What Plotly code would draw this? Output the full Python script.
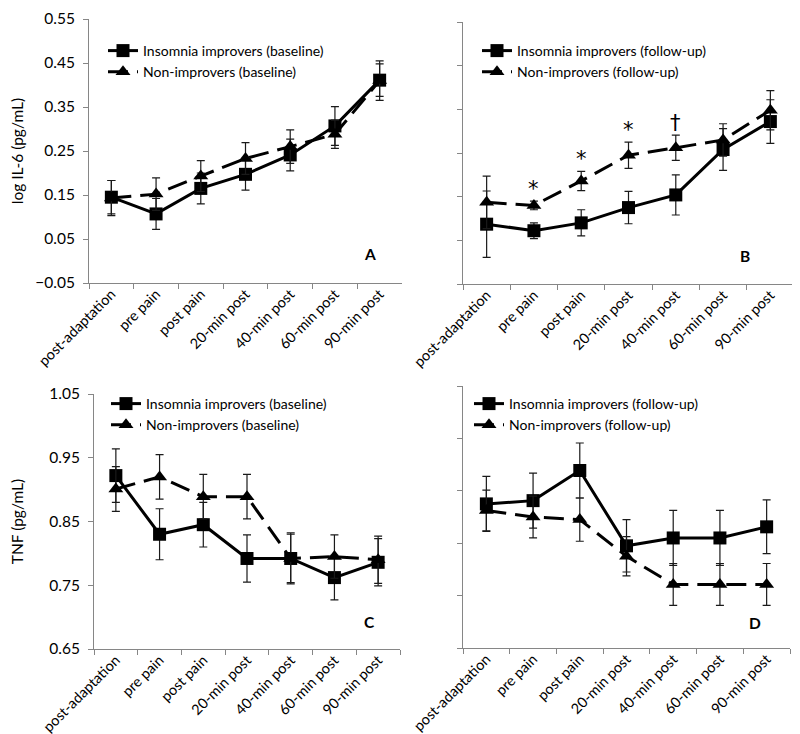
import plotly.graph_objects as go

categories = ["post-adaptation", "pre pain", "post pain", "20-min post",
              "40-min post", "60-min post", "90-min post"]

# Panel A: log IL-6, baseline
il6_impr_base = [0.145, 0.107, 0.165, 0.197, 0.241, 0.307, 0.411]
il6_impr_base_se = [0.038, 0.035, 0.035, 0.036, 0.036, 0.044, 0.037]
il6_non_base = [0.143, 0.152, 0.193, 0.233, 0.260, 0.288, 0.410]
il6_non_base_se = [0.040, 0.037, 0.035, 0.036, 0.038, 0.032, 0.045]

# Panel B: log IL-6, follow-up
il6_impr_fu = [0.087, 0.072, 0.090, 0.125, 0.154, 0.258, 0.322]
il6_impr_fu_se = [0.076, 0.018, 0.030, 0.037, 0.046, 0.048, 0.050]
il6_non_fu = [0.137, 0.130, 0.186, 0.245, 0.262, 0.280, 0.348]
il6_non_fu_se = [0.060, 0.010, 0.022, 0.030, 0.029, 0.037, 0.045]
sig_labels_b = ["", "*", "*", "*", "†", "", ""]

# Panel C: TNF, baseline
tnf_impr_base = [0.922, 0.830, 0.845, 0.792, 0.792, 0.762, 0.786]
tnf_impr_base_se = [0.042, 0.040, 0.035, 0.037, 0.038, 0.035, 0.037]
tnf_non_base = [0.901, 0.920, 0.889, 0.889, 0.792, 0.795, 0.790]
tnf_non_base_se = [0.035, 0.035, 0.035, 0.035, 0.040, 0.034, 0.037]

# Panel D: TNF, follow-up
tnf_impr_fu = [0.870, 0.875, 0.921, 0.806, 0.818, 0.818, 0.835]
tnf_impr_fu_se = [0.042, 0.042, 0.042, 0.040, 0.042, 0.042, 0.041]
tnf_non_fu = [0.860, 0.850, 0.846, 0.790, 0.747, 0.747, 0.747]
tnf_non_fu_se = [0.031, 0.032, 0.033, 0.030, 0.032, 0.032, 0.032]

panel_letters = ["A", "B", "C", "D"]

# the page body adds an 8px margin, so the figure is sized to fit the window
OFF = 8
W, H = 800 - OFF, 734 - OFF
FONT = "Lato"
AXIS_GRAY = "#868686"


def px_x(a, b):
    return [(a - OFF) / W, (b - OFF) / W]


def px_y(top, bottom):
    return [1 - (bottom - OFF) / H, 1 - (top - OFF) / H]


panels = [
    dict(xd=px_x(89, 402), yd=px_y(19, 283), yr=[-0.05, 0.55], dt=0.1, lab=True,
         impr=il6_impr_base, impr_se=il6_impr_base_se, non=il6_non_base, non_se=il6_non_base_se,
         names=("Insomnia improvers (baseline)", "Non-improvers (baseline)"),
         leg=(103, 35), letter=(0.923, 0.068), title="log IL-6 (pg/mL)", so=16),
    dict(xd=px_x(463, 794), yd=px_y(22, 284), yr=[-0.05, 0.55], dt=0.1, lab=False,
         impr=il6_impr_fu, impr_se=il6_impr_fu_se, non=il6_non_fu, non_se=il6_non_fu_se,
         names=("Insomnia improvers (follow-up)", "Non-improvers (follow-up)"),
         leg=(477, 35), letter=(0.873, 0.065), title=None, so=0),
    dict(xd=px_x(94, 400), yd=px_y(394, 649), yr=[0.65, 1.05], dt=0.1, lab=True,
         impr=tnf_impr_base, impr_se=tnf_impr_base_se, non=tnf_non_base, non_se=tnf_non_base_se,
         names=("Insomnia improvers (baseline)", "Non-improvers (baseline)"),
         leg=(106, 388), letter=(0.925, 0.063), title="TNF (pg/mL)", so=26),
    dict(xd=px_x(463, 790), yd=px_y(386, 648), yr=[0.65, 1.05], dt=0.08, lab=False,
         impr=tnf_impr_fu, impr_se=tnf_impr_fu_se, non=tnf_non_fu, non_se=tnf_non_fu_se,
         names=("Insomnia improvers (follow-up)", "Non-improvers (follow-up)"),
         leg=(469, 388), letter=(0.917, 0.053), title=None, so=0),
]

fig = go.Figure()
layout = dict(width=W, height=H, margin=dict(l=0, r=0, t=0, b=0, autoexpand=False),
              template="none", paper_bgcolor="white", plot_bgcolor="white",
              font=dict(family=FONT, size=14, color="black"), annotations=[])

for i, p in enumerate(panels):
    n = "" if i == 0 else str(i + 1)
    xa, ya = "x" + n, "y" + n
    legname = "legend" + n
    fig.add_trace(go.Scatter(
        x=categories, y=p["impr"], name=p["names"][0], xaxis=xa, yaxis=ya,
        mode="lines+markers", legend=legname,
        line=dict(color="black", width=3),
        marker=dict(symbol="square", size=13, color="black"),
        error_y=dict(type="data", array=p["impr_se"], visible=True,
                     color="#1a1a1a", thickness=1.2, width=4)))
    fig.add_trace(go.Scatter(
        x=categories, y=p["non"], name=p["names"][1], xaxis=xa, yaxis=ya,
        mode="lines+markers", legend=legname,
        line=dict(color="black", width=3, dash="20px,9px"),
        marker=dict(symbol="triangle-up", size=13, color="black"),
        error_y=dict(type="data", array=p["non_se"], visible=True,
                     color="#1a1a1a", thickness=1.2, width=4)))

    layout["xaxis" + n] = dict(
        domain=p["xd"], anchor=ya, type="category", categoryorder="array",
        categoryarray=categories, range=[-0.5, len(categories) - 0.5],
        tickson="boundaries", ticks="outside",
        ticklen=5, tickcolor=AXIS_GRAY, showline=True, linecolor=AXIS_GRAY,
        linewidth=1, showgrid=False, zeroline=False, tickangle=-45, automargin=False,
        ticklabelstandoff=-4,
        tickfont=dict(size=14.5, family=FONT, color="black"), fixedrange=True)
    ydict = dict(
        domain=p["yd"], anchor=xa, range=p["yr"], tick0=p["yr"][0], dtick=p["dt"],
        ticks="outside", ticklen=5, tickcolor=AXIS_GRAY, showline=True,
        linecolor=AXIS_GRAY, linewidth=1, showgrid=False, zeroline=False,
        showticklabels=p["lab"], tickformat=".2f", automargin=False,
        ticklabelstandoff=5,
        tickfont=dict(size=15.5, family=FONT, color="black"), fixedrange=True)
    if p["title"]:
        ydict["title"] = dict(text=p["title"], font=dict(size=15.5, family=FONT, color="black"),
                              standoff=p["so"])
    layout["yaxis" + n] = ydict

    layout[legname] = dict(
        x=(p["leg"][0] - OFF) / W, y=1 - (p["leg"][1] - OFF) / H,
        xanchor="left", yanchor="top",
        bgcolor="rgba(0,0,0,0)", font=dict(size=14, family=FONT, color="black"),
        tracegroupgap=0, itemwidth=30)

    layout["annotations"].append(dict(
        text="<b>%s</b>" % panel_letters[i], xref=xa + " domain", yref=ya + " domain",
        x=p["letter"][0], y=p["letter"][1], showarrow=False,
        font=dict(size=15.5, family=FONT, color="black")))

# significance marks in panel B
for c, lab, v, s in zip(categories, sig_labels_b, il6_non_fu, il6_non_fu_se):
    if lab:
        layout["annotations"].append(dict(
            text=lab, x=c, y=v + s, xref="x2", yref="y2", yanchor="bottom",
            showarrow=False, yshift=-2, font=dict(size=21, family="DejaVu Sans", color="black")))

fig.update_layout(**layout)
fig.write_html("out.html")
